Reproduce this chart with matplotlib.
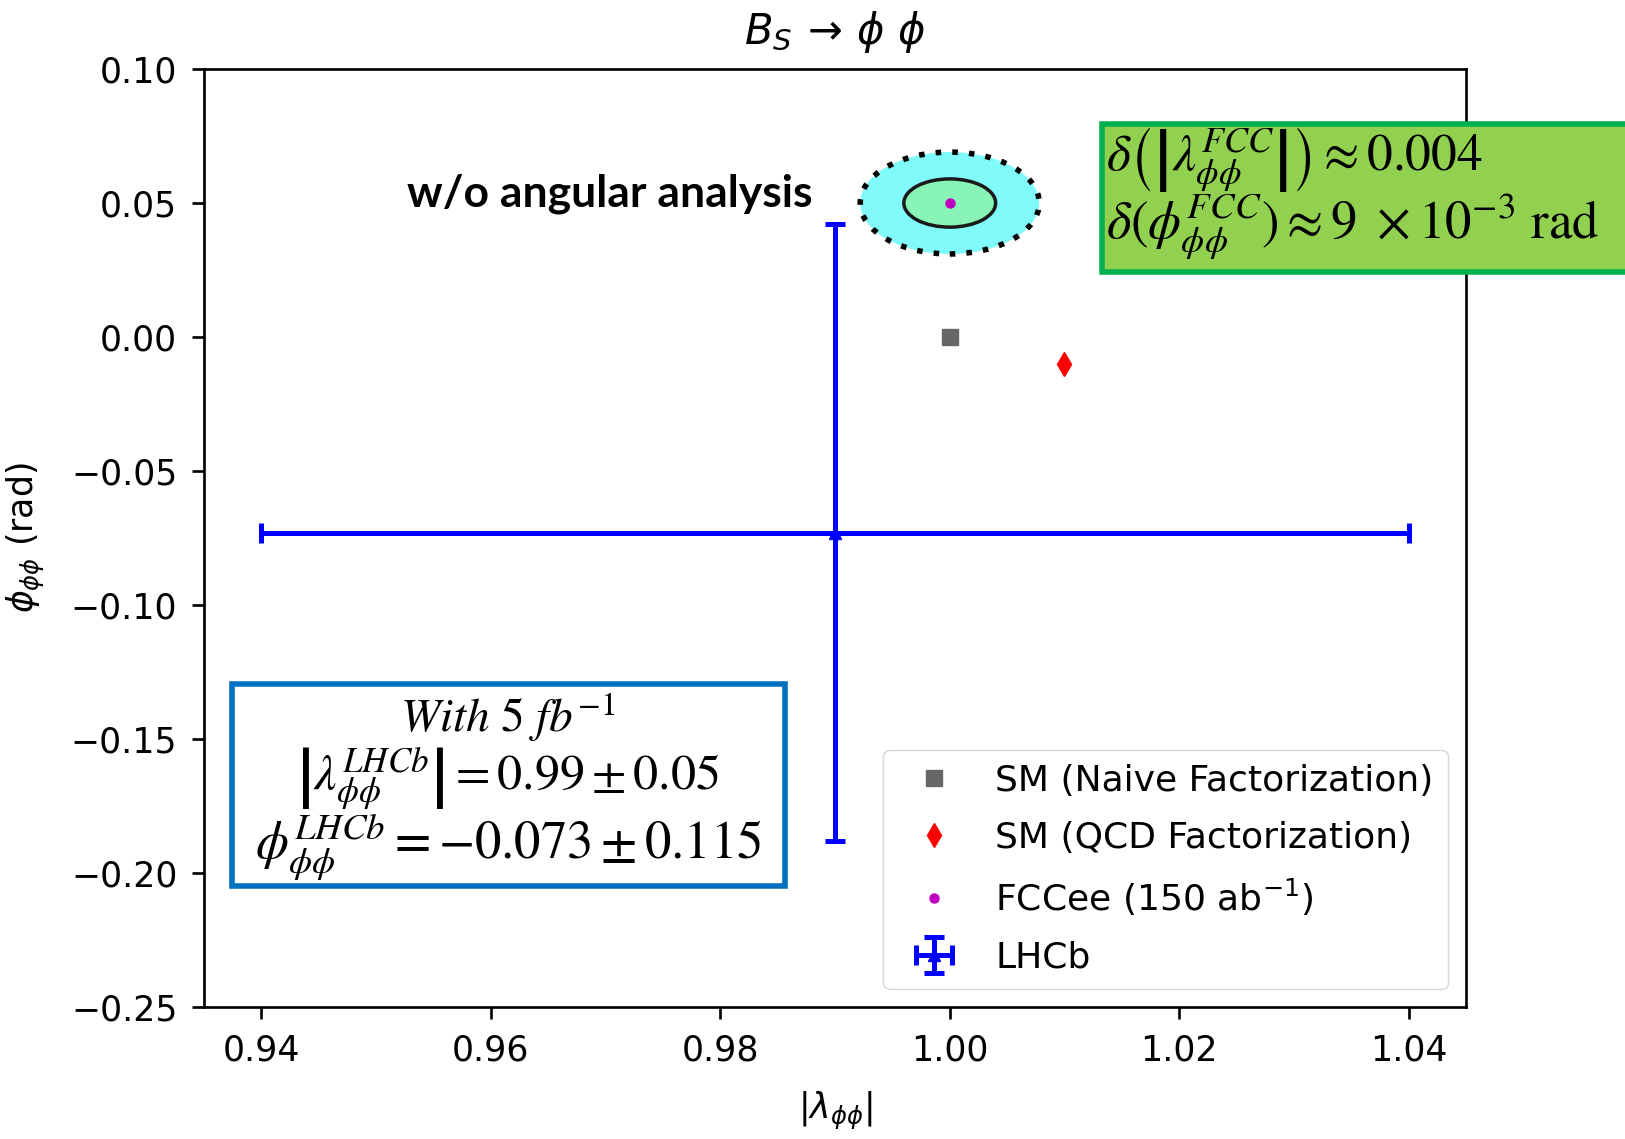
import matplotlib
matplotlib.use('Agg')
import matplotlib.pyplot as plt
from matplotlib.patches import Ellipse, Rectangle

# central values
sm_naive = (1.00, 0.00)
sm_qcdf = (1.01, -0.01)
fcc = (1.00, 0.05)
lhcb = (0.99, -0.073)
lhcb_err = (0.05, 0.115)
# FCC-ee sensitivities (1 sigma) and the outer (2 sigma) contour
fcc_sig1 = (0.004, 0.009)
fcc_sig2 = (0.0078, 0.019)

xticks = [0.94, 0.96, 0.98, 1.00, 1.02, 1.04]
yticks = [-0.25, -0.20, -0.15, -0.10, -0.05, 0.00, 0.05, 0.10]

k = 2.4  # scale against default sizes
plt.rcParams['font.size'] = 25
plt.rcParams['axes.linewidth'] = 0.8 * k
for a in ['xtick', 'ytick']:
    plt.rcParams[a + '.major.size'] = 3.5 * k
    plt.rcParams[a + '.major.width'] = 0.8 * k
    plt.rcParams[a + '.major.pad'] = 4.5 * k

fig = plt.figure(figsize=(16.25, 11.39), dpi=100)
ax = fig.add_axes([0.1255, 0.1159, 0.9022 - 0.1255, 0.9394 - 0.1159])

ax.add_patch(Ellipse(fcc, 2 * fcc_sig2[0], 2 * fcc_sig2[1], facecolor='#80fafa',
                     edgecolor='black', linestyle=(0, (1, 2)), linewidth=4, zorder=2))
ax.add_patch(Ellipse(fcc, 2 * fcc_sig1[0], 2 * fcc_sig1[1], facecolor='#88f5b6',
                     edgecolor='#1a1a1a', linewidth=2.5, zorder=3))

ax.plot(*sm_naive, 's', color='0.4', markersize=11, label='SM (Naive Factorization)', zorder=4)
ax.plot(*sm_qcdf, 'd', color='red', markersize=12, label='SM (QCD Factorization)', zorder=4)
ax.plot(*fcc, '.', color='m', markersize=13, label=r'FCCee (150 ab$^{-1}$)', zorder=5)
ax.errorbar(lhcb[0], lhcb[1], xerr=lhcb_err[0], yerr=lhcb_err[1], fmt='^', color='blue',
            markersize=9, elinewidth=1.5 * k, capsize=7, capthick=1.5 * k, label='LHCb', zorder=4)

ax.set_xlim(0.935, 1.045)
ax.set_ylim(-0.25, 0.10)
ax.set_xticks(xticks)
ax.set_yticks(yticks)
ax.set_xticklabels(['%.2f' % v for v in xticks])
ax.set_yticklabels([('%.2f' % v).replace('-', '\u2212') for v in yticks])
ax.set_title(r'$B_S\,\rightarrow\,\phi\ \phi$', fontsize=30, pad=18)
ax.set_xlabel(r'$|\lambda_{\phi\phi}|$', labelpad=16)
ax.set_ylabel(r'$\phi_{\phi\phi}$ (rad)', labelpad=17)
ax.legend(loc='lower right', fontsize=26, handletextpad=0.7, labelspacing=0.62)

# annotation boxes
fig.add_artist(Rectangle((0.678, 0.7612), 0.40, 0.1299, transform=fig.transFigure,
                         facecolor='#92d050', edgecolor='#00b050', linewidth=4, zorder=5))
fig.text(0.6806, 0.8600, r'$\delta\left(\left|\lambda^{FCC}_{\phi\phi}\right|\right) \approx 0.004$',
         fontsize=37, va='center', ha='left', math_fontfamily='stix', zorder=6)
fig.text(0.6806, 0.8016, r'$\delta(\phi^{FCC}_{\phi\phi}) \approx 9\ \times 10^{-3}\ \mathrm{rad}$',
         fontsize=38, va='center', ha='left', math_fontfamily='stix', zorder=6)

fig.add_artist(Rectangle((0.1428, 0.2221), 0.3403, 0.1773, transform=fig.transFigure,
                         facecolor='white', edgecolor='#0070c0', linewidth=4, zorder=5))
fig.text(0.3126, 0.3705, r'$\mathit{With\ 5\ fb^{-1}}$', fontsize=34, ha='center', va='center',
         math_fontfamily='stix', zorder=6)
fig.text(0.3126, 0.3161, r'$\left|\lambda^{LHCb}_{\phi\phi}\right| = 0.99 \pm 0.05$', fontsize=36,
         ha='center', va='center', math_fontfamily='stix', zorder=6)
fig.text(0.3126, 0.2564, r'$\phi^{LHCb}_{\phi\phi} = -0.073 \pm 0.115$', fontsize=38,
         ha='center', va='center', math_fontfamily='stix', zorder=6)

fig.text(0.2505, 0.8297, 'w/o angular analysis', fontsize=32, fontweight='bold',
         family='Lato', ha='left', va='center', zorder=6)

fig.savefig('out.png', dpi=100)
